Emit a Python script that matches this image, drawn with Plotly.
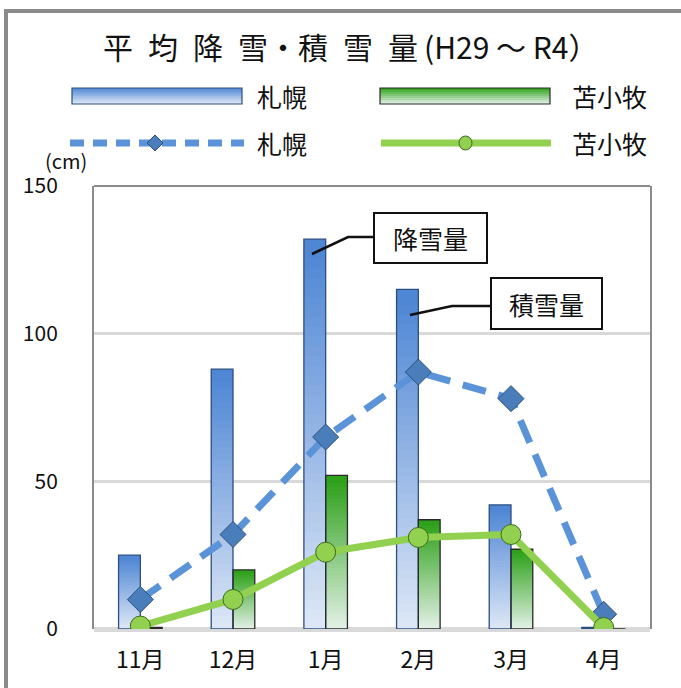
import plotly.graph_objects as go

# ---------------- data ----------------
months = ["11月", "12月", "1月", "2月", "3月", "4月"]
sapporo_snowfall = [25, 88, 132, 115, 42, 0.5]      # 札幌 降雪量 (bars)
tomakomai_snowfall = [0.5, 20, 52, 37, 27, 0]        # 苫小牧 降雪量 (bars)
sapporo_depth = [10, 32, 65, 87, 78, 5]              # 札幌 積雪量 (line)
tomakomai_depth = [1, 10, 26, 31, 32, 0.5]           # 苫小牧 積雪量 (line)
y_ticks = [0, 50, 100, 150]
series_names = ["札幌", "苫小牧"]
S = "\u2002"
title_text = "平" + S + "均" + S + "降" + S + "雪・積" + S + "雪" + S + "量\u2009(H29 ～ R4）"

# ---------------- layout helpers ----------------
W, H = 681, 688
L, R, T, B = 94, 31, 186, 59
PW, PH = W - L - R, H - T - B


def px(x):
    return (x - L) / PW


def py(y):
    return (H - B - y) / PH


FONT = "Noto Sans CJK JP"
N = 40
BAR_W = 0.235

blue_top, blue_bot = (78, 134, 212), (226, 234, 247)
green_top, green_bot = (44, 160, 24), (232, 243, 236)


def mix(c1, c2, t):
    return "rgb(%d,%d,%d)" % tuple(round(a + (b - a) * t) for a, b in zip(c1, c2))


def gradient_bar(values, offset, top, bot):
    xs, ys, bases, cols = [], [], [], []
    for i in range(N):
        t = (i + 0.5) / N
        for m, v in zip(months, values):
            lo = v * max(i - 1, 0) / N
            hi = v * (i + 1) / N
            xs.append(m)
            ys.append(hi - lo)
            bases.append(lo)
            cols.append(mix(bot, top, t))
    return go.Bar(x=xs, y=ys, base=bases, width=BAR_W, offset=offset,
                  marker=dict(color=cols, line=dict(width=0)),
                  showlegend=False, hoverinfo="skip")


fig = go.Figure()
fig.add_trace(gradient_bar(sapporo_snowfall, -BAR_W, blue_top, blue_bot))
fig.add_trace(gradient_bar(tomakomai_snowfall, 0, green_top, green_bot))
fig.add_trace(go.Bar(x=months, y=sapporo_snowfall, width=BAR_W, offset=-BAR_W,
                     marker=dict(color="rgba(0,0,0,0)", line=dict(color="#2d4f80", width=1.3)),
                     name=series_names[0], showlegend=False))
fig.add_trace(go.Bar(x=months, y=tomakomai_snowfall, width=BAR_W, offset=0,
                     marker=dict(color="rgba(0,0,0,0)", line=dict(color="#2a2a2a", width=1.3)),
                     name=series_names[1], showlegend=False))

fig.add_trace(go.Scatter(x=months, y=sapporo_depth, mode="lines+markers", name=series_names[0],
                         line=dict(color="#5b93d9", width=7, dash="24px,13px"),
                         marker=dict(symbol="diamond", size=20, color="#4a7ebb",
                                     line=dict(color="#2e4f7c", width=1)),
                         showlegend=False))
fig.add_trace(go.Scatter(x=months, y=tomakomai_depth, mode="lines+markers", name=series_names[1],
                         line=dict(color="#92d050", width=7),
                         marker=dict(symbol="circle", size=20, color="#92d050",
                                     line=dict(color="#3d6b1c", width=1)),
                         showlegend=False))

shapes = []
annotations = []

# outer frame
shapes.append(dict(type="rect", xref="paper", yref="paper",
                   x0=px(6), x1=px(700), y0=py(710), y1=py(11),
                   line=dict(color="#8a8a8a", width=4), fillcolor="rgba(0,0,0,0)", layer="below"))
# plot area top border
shapes.append(dict(type="line", xref="paper", yref="paper", x0=0, x1=1, y0=1, y1=1,
                   line=dict(color="#8a8a8a", width=2)))

# legend: bar swatches
for (x0, x1, top, bot, lc) in [(72, 242, blue_top, blue_bot, "#2d4f80"),
                               (380, 550, green_top, green_bot, "#2a2a2a")]:
    y0, y1 = 88, 104
    n = 8
    for i in range(n):
        ya = y0 + (y1 - y0) * i / n
        yb = min(y0 + (y1 - y0) * (i + 1) / n + 1.5, y1)
        shapes.append(dict(type="rect", xref="paper", yref="paper",
                           x0=px(x0), x1=px(x1), y0=py(yb), y1=py(ya),
                           fillcolor=mix(top, bot, (i + 0.5) / n), line=dict(width=0)))
    shapes.append(dict(type="rect", xref="paper", yref="paper",
                       x0=px(x0), x1=px(x1), y0=py(y1), y1=py(y0),
                       fillcolor="rgba(0,0,0,0)", line=dict(color=lc, width=1.2)))

# legend: line swatches
shapes.append(dict(type="line", xref="paper", yref="paper", x0=px(70), x1=px(244),
                   y0=py(143), y1=py(143), line=dict(color="#5b93d9", width=7, dash="14px,9px")))
d = 8
shapes.append(dict(type="path", xref="paper", yref="paper",
                   path="M %f,%f L %f,%f L %f,%f L %f,%f Z" % (
                       px(155), py(143 - d), px(155 + d), py(143), px(155), py(143 + d), px(155 - d), py(143)),
                   fillcolor="#4a7ebb", line=dict(color="#2e4f7c", width=1)))
shapes.append(dict(type="line", xref="paper", yref="paper", x0=px(381), x1=px(551),
                   y0=py(143), y1=py(143), line=dict(color="#92d050", width=7)))
shapes.append(dict(type="circle", xref="paper", yref="paper",
                   x0=px(459), x1=px(472), y0=py(150), y1=py(136),
                   fillcolor="#92d050", line=dict(color="#3d6b1c", width=1)))

for x, y, txt in [(255, 96, series_names[0]), (570, 96, series_names[1]),
                  (255, 143, series_names[0]), (570, 143, series_names[1])]:
    annotations.append(dict(x=px(x), y=py(y), xref="paper", yref="paper", text=txt,
                            showarrow=False, xanchor="left", yanchor="middle",
                            font=dict(family=FONT, size=25, color="#111")))

# title
annotations.append(dict(x=px(350), y=py(46), xref="paper", yref="paper", text=title_text,
                        showarrow=False, xanchor="center", yanchor="middle",
                        font=dict(family=FONT, size=30, color="#111")))
# unit
annotations.append(dict(x=px(66), y=py(160), xref="paper", yref="paper", text="(cm)",
                        showarrow=False, xanchor="center", yanchor="middle",
                        font=dict(family=FONT, size=20, color="#111")))

# callout boxes
for (bx0, bx1, by0, by1, txt, leader) in [
        (373, 488, 212, 264, "降雪量", [(312, 254), (348, 237), (373, 237)]),
        (490, 603, 277, 330, "積雪量", [(410, 315), (452, 306), (490, 306)])]:
    annotations.append(dict(x=px((bx0 + bx1) / 2), y=py((by0 + by1) / 2), xref="paper", yref="paper",
                            text=txt, showarrow=False, xanchor="center", yanchor="middle",
                            width=bx1 - bx0 - 4, height=by1 - by0 - 4, bgcolor="white",
                            bordercolor="#111", borderwidth=2, borderpad=0,
                            font=dict(family=FONT, size=25, color="#111")))
    path = "M " + " L ".join("%f,%f" % (px(a), py(b)) for a, b in leader)
    shapes.append(dict(type="path", xref="paper", yref="paper", path=path,
                       line=dict(color="#111", width=2.5)))

fig.update_layout(
    width=W, height=H,
    margin=dict(l=L, r=R, t=T, b=B, pad=0),
    paper_bgcolor="white", plot_bgcolor="white",
    barmode="overlay",
    showlegend=False,
    font=dict(family=FONT, color="#111"),
    shapes=shapes, annotations=annotations,
    xaxis=dict(type="category", categoryorder="array", categoryarray=months,
               showgrid=False, showline=False, ticks="", ticklabelstandoff=15,
               tickfont=dict(family=FONT, size=23, color="#111"), range=[-0.5, 5.5]),
    yaxis=dict(range=[0, 150], tickvals=y_ticks, ticktext=[str(v) for v in y_ticks],
               showgrid=True, gridcolor="#d9d9d9", gridwidth=3,
               zeroline=True, zerolinecolor="#d9d9d9", zerolinewidth=5,
               showline=True, mirror=True, linecolor="#8a8a8a", linewidth=2,
               ticks="", ticklabelstandoff=30,
               tickfont=dict(family=FONT, size=21, color="#111")),
)

fig.write_html("out.html", config={"displayModeBar": False},
               post_script="document.body.style.margin='0';")
